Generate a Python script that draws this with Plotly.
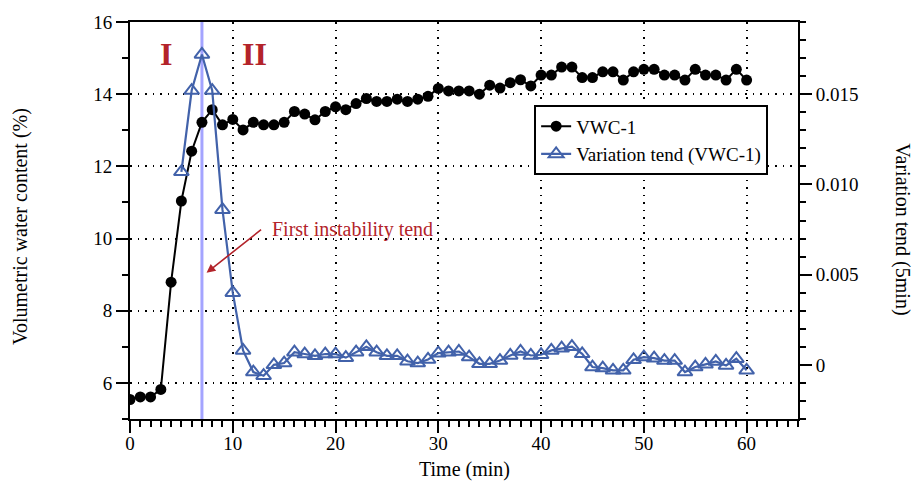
import plotly.graph_objects as go

# Time axis (minutes)
time_vwc = list(range(0, 61))
time_trend = list(range(5, 61))

# Volumetric water content, sensor VWC-1 (%)
vwc_1 = [5.54, 5.61, 5.61, 5.82, 8.79, 11.04, 12.42, 13.22, 13.57, 13.15,
         13.30, 13.01, 13.22, 13.15, 13.15, 13.22, 13.52, 13.45, 13.29, 13.52,
         13.65, 13.57, 13.74, 13.88, 13.80, 13.80, 13.86, 13.80, 13.86, 13.94,
         14.16, 14.09, 14.09, 14.09, 14.00, 14.25, 14.17, 14.32, 14.40, 14.23,
         14.53, 14.53, 14.75, 14.75, 14.46, 14.46, 14.62, 14.62, 14.39, 14.62,
         14.69, 14.69, 14.53, 14.53, 14.39, 14.69, 14.53, 14.53, 14.39, 14.69,
         14.39]

# 5-minute variation tendency of VWC-1
trend_vwc_1 = [0.0107, 0.0152, 0.0172, 0.0152, 0.0086, 0.0040, 0.0008, -0.0004,
               -0.0006, 0.0000, 0.0001, 0.0007, 0.0006, 0.0005, 0.0006, 0.0006,
               0.0004, 0.0007, 0.0010, 0.0007, 0.0005, 0.0005, 0.0002, 0.0001,
               0.0003, 0.00065, 0.0007, 0.00074, 0.00043, 0.00006, 0.00006,
               0.00024, 0.00052, 0.00074, 0.00052, 0.00056, 0.0008, 0.00092,
               0.00101, 0.00061, -0.00012, -0.00018, -0.0003, -0.0003, 0.00028,
               0.00043, 0.00037, 0.00024, 0.00024, -0.0004, -0.00012, 0.00003,
               0.00019, -0.00003, 0.00034, -0.0003]

# Right-axis tick labels
trend_tickvals = [0, 0.005, 0.010, 0.015]
trend_ticktext = ["0", "0.005", "0.010", "0.015"]

# Onset of the first instability
instability_time = 7
arrow_head = (7.45, 9.05)
arrow_tail = (12.9, 10.28)
phase_labels = [("I", 3.5), ("II", 12.1)]
phase_label_y = 15.1

FONT = "Liberation Serif"
RED = "#b3232a"
BLUE = "#4262aa"
GRID_DASH = "1.5px,6px"

fig = go.Figure()

fig.add_trace(go.Scatter(
    x=time_vwc, y=vwc_1, name="VWC-1", mode="lines+markers",
    line=dict(color="black", width=2),
    marker=dict(symbol="circle", size=11, color="black"),
    yaxis="y",
))

fig.add_trace(go.Scatter(
    x=time_trend, y=trend_vwc_1, name="Variation tend (VWC-1)",
    mode="lines+markers",
    line=dict(color=BLUE, width=2.2),
    marker=dict(symbol="triangle-up-open", size=13, color=BLUE,
                line=dict(width=2, color=BLUE)),
    yaxis="y2",
))

# Vertical marker at the instability onset
fig.add_shape(type="line", xref="x", yref="paper",
              x0=instability_time, x1=instability_time, y0=0, y1=1,
              line=dict(color="#a4a4ff", width=3), layer="below")

annotations = []
for txt, xpos in phase_labels:
    annotations.append(dict(x=xpos, y=phase_label_y, xref="x", yref="y",
                            text=f"<b>{txt}</b>", showarrow=False,
                            font=dict(family=FONT, size=32, color=RED)))

annotations.append(dict(x=arrow_head[0], y=arrow_head[1], xref="x", yref="y",
                        ax=arrow_tail[0], ay=arrow_tail[1], axref="x", ayref="y",
                        text="", showarrow=True, arrowhead=2, arrowsize=1.1,
                        arrowwidth=1.6, arrowcolor=RED))
annotations.append(dict(x=13.65, y=10.25, xref="x", yref="y",
                        text="First instability tend", showarrow=False,
                        xanchor="left", yanchor="middle",
                        font=dict(family=FONT, size=20, color=RED)))

# Axis titles
annotations.append(dict(x=-0.164, y=0.485, xref="paper", yref="paper",
                        text="Volumetric water content (%)", textangle=-90,
                        showarrow=False, xanchor="center", yanchor="middle",
                        font=dict(family=FONT, size=20, color="black")))
annotations.append(dict(x=1.157, y=0.478, xref="paper", yref="paper",
                        text="Variation tend (5min)", textangle=90,
                        showarrow=False, xanchor="center", yanchor="middle",
                        font=dict(family=FONT, size=20, color="black")))
annotations.append(dict(x=0.5, y=-0.128, xref="paper", yref="paper",
                        text="Time (min)", showarrow=False,
                        xanchor="center", yanchor="middle",
                        font=dict(family=FONT, size=20, color="black")))

axis_common = dict(
    showline=True, linecolor="black", linewidth=2,
    ticks="outside", ticklen=12, tickwidth=2, tickcolor="black",
    tickfont=dict(family=FONT, size=19, color="black"),
    zeroline=False,
)

fig.update_layout(
    width=917, height=483,
    margin=dict(l=130, r=119, t=19, b=64),
    paper_bgcolor="white", plot_bgcolor="white",
    font=dict(family=FONT, color="black"),
    showlegend=True,
    legend=dict(x=0.605, y=0.79, xanchor="left", yanchor="top",
                bgcolor="white", bordercolor="black", borderwidth=2,
                font=dict(family=FONT, size=19, color="black"),
                itemwidth=30, tracegroupgap=0),
    annotations=annotations,
    xaxis=dict(
        range=[0, 65], dtick=10, tick0=0, mirror=True,
        showgrid=True, gridcolor="black", gridwidth=1.5, griddash=GRID_DASH,
        ticklabelstandoff=-6,
        minor=dict(dtick=1, ticks="outside", ticklen=6, tickwidth=1.5,
                   tickcolor="black", showgrid=False),
        **axis_common,
    ),
    yaxis=dict(
        range=[5, 16], dtick=2, tick0=0,
        showgrid=True, gridcolor="black", gridwidth=1.5, griddash=GRID_DASH,
        minor=dict(dtick=1, ticks="outside", ticklen=6, tickwidth=1.5,
                   tickcolor="black", showgrid=False),
        **axis_common,
    ),
    yaxis2=dict(
        range=[-0.003, 0.019], overlaying="y", side="right",
        tickvals=trend_tickvals, ticktext=trend_ticktext,
        showgrid=False,
        minor=dict(dtick=0.001, tick0=0, ticks="outside", ticklen=6,
                   tickwidth=1.5, tickcolor="black", showgrid=False),
        **axis_common,
    ),
)

fig.write_html("out.html")
